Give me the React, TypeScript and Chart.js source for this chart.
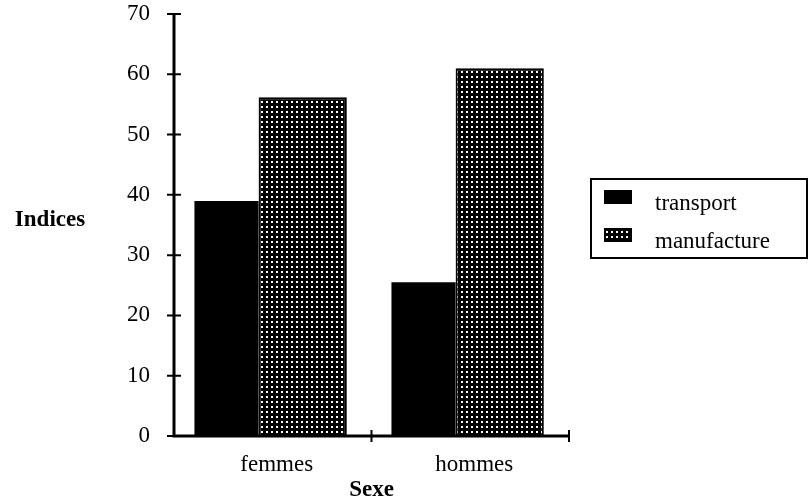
import { useEffect, useRef } from "react";
import { Chart, registerables } from "chart.js";

Chart.register(...registerables);

// ---- data ----
const categories = ["femmes", "hommes"];
const seriesNames = ["transport", "manufacture"];
const transportValues = [39, 25.5];
const manufactureValues = [56.2, 61];
const yMin = 0;
const yMax = 70;
const yStep = 10;
const yTitle = "Indices";
const xTitle = "Sexe";

const FONT = '"Liberation Serif", "Times New Roman", serif';

function makeDotPattern(ctx: CanvasRenderingContext2D) {
  const c = document.createElement("canvas");
  c.width = 5;
  c.height = 5;
  const g = c.getContext("2d")!;
  g.fillStyle = "#000";
  g.fillRect(0, 0, 5, 5);
  g.fillStyle = "#fff";
  g.fillRect(1, 1, 2, 2);
  return ctx.createPattern(c, "repeat")!;
}

const axesPlugin = {
  id: "customAxes",
  afterDatasetsDraw(chart: any) {
    const { ctx, chartArea, scales } = chart;
    const y = scales.y;
    const x = scales.x;
    const x0 = chartArea.left;
    const yb = y.getPixelForValue(yMin);
    const yt = y.getPixelForValue(yMax);
    ctx.save();
    ctx.strokeStyle = "#000";
    ctx.lineWidth = 3;
    ctx.beginPath();
    ctx.moveTo(x0, yt);
    ctx.lineTo(x0, yb);
    ctx.lineTo(chartArea.right, yb);
    ctx.stroke();
    ctx.lineWidth = 2;
    ctx.beginPath();
    y.ticks.forEach((t: any) => {
      const p = y.getPixelForValue(t.value);
      ctx.moveTo(x0 - 7, p);
      ctx.lineTo(x0 + 7, p);
    });
    for (let i = 1; i <= categories.length; i++) {
      const p = x.getPixelForValue(i - 0.5);
      ctx.moveTo(p, yb - 6);
      ctx.lineTo(p, yb + 6);
    }
    ctx.stroke();
    ctx.restore();
  },
};

const decorPlugin = {
  id: "decor",
  afterDraw(chart: any) {
    const { ctx } = chart;
    ctx.save();
    // y title, horizontal
    ctx.fillStyle = "#000";
    ctx.font = `bold 23px ${FONT}`;
    ctx.textAlign = "center";
    ctx.textBaseline = "alphabetic";
    ctx.fillText(yTitle, 50, 226);
    // legend
    ctx.lineWidth = 2;
    ctx.strokeStyle = "#000";
    ctx.strokeRect(591, 179, 216, 79);
    ctx.textAlign = "left";
    ctx.font = `23px ${FONT}`;
    chart.data.datasets.forEach((ds: any, i: number) => {
      const base = 210 + i * 38;
      ctx.fillStyle = ds.backgroundColor;
      ctx.fillRect(604, base - 20, 28, 14);
      ctx.strokeStyle = "#000";
      ctx.lineWidth = 1.5;
      ctx.strokeRect(604.75, base - 19.25, 26.5, 12.5);
      ctx.fillStyle = "#000";
      ctx.fillText(ds.label, 655, base);
    });
    ctx.restore();
  },
};

export default function App() {
  const ref = useRef<HTMLCanvasElement | null>(null);
  useEffect(() => {
    document.body.style.margin = "0";
    const canvas = ref.current!;
    const ctx = canvas.getContext("2d")!;
    const pattern = makeDotPattern(ctx);
    const catPct = 0.7735;
    const chart = new Chart(canvas, {
      type: "bar",
      data: {
        labels: categories,
        datasets: [
          {
            label: seriesNames[0],
            data: transportValues.map((v, i) => ({ x: i, y: v })) as any,
            xAxisID: "xb",
            backgroundColor: "#000",
            borderWidth: 0,
            categoryPercentage: catPct,
            barPercentage: 64 / 76,
          },
          {
            label: seriesNames[1],
            data: manufactureValues.map((v, i) => ({ x: i, y: v })) as any,
            xAxisID: "xb",
            backgroundColor: pattern as any,
            borderColor: "#000",
            borderWidth: 2,
            categoryPercentage: catPct,
            barPercentage: 88 / 76,
          },
        ],
      },
      options: {
        responsive: false,
        animation: false,
        layout: { padding: { top: 14, right: 242, left: 0, bottom: 0 } },
        plugins: {
          legend: { display: false },
          tooltip: { enabled: false },
        },
        scales: {
          xb: {
            type: "linear",
            display: false,
            offset: false,
            min: -0.46,
            max: 1.545,
            afterBuildTicks: (s: any) => {
              s.ticks = categories.map((_, i) => ({ value: i }));
            },
          },
          x: {
            type: "category",
            position: "bottom",
            offset: true,
            grid: { display: false, drawTicks: false },
            border: { display: false },
            ticks: {
              color: "#000",
              font: { family: FONT, size: 23 },
              padding: 15,
              labelOffset: 4,
            },
            title: {
              display: true,
              text: xTitle,
              color: "#000",
              font: { family: FONT, size: 23, weight: "bold", lineHeight: 1 },
              padding: { top: 0, bottom: 0 },
            },
            afterFit: (s: any) => {
              s.height = 66;
              s.paddingLeft = 0;
              s.paddingRight = 0;
            },
          },
          y: {
            type: "linear",
            min: yMin,
            max: yMax,
            grid: { display: false, drawTicks: false },
            border: { display: false },
            ticks: {
              stepSize: yStep,
              color: "#000",
              font: { family: FONT, size: 23 },
              padding: 24,
            },
            afterFit: (s: any) => {
              s.width = 174;
              s.paddingTop = 0;
              s.paddingBottom = 0;
            },
          },
        } as any,
      },
      plugins: [axesPlugin, decorPlugin],
    });
    return () => chart.destroy();
  }, []);
  return <canvas ref={ref} width={811} height={502} style={{ display: "block" }} />;
}
